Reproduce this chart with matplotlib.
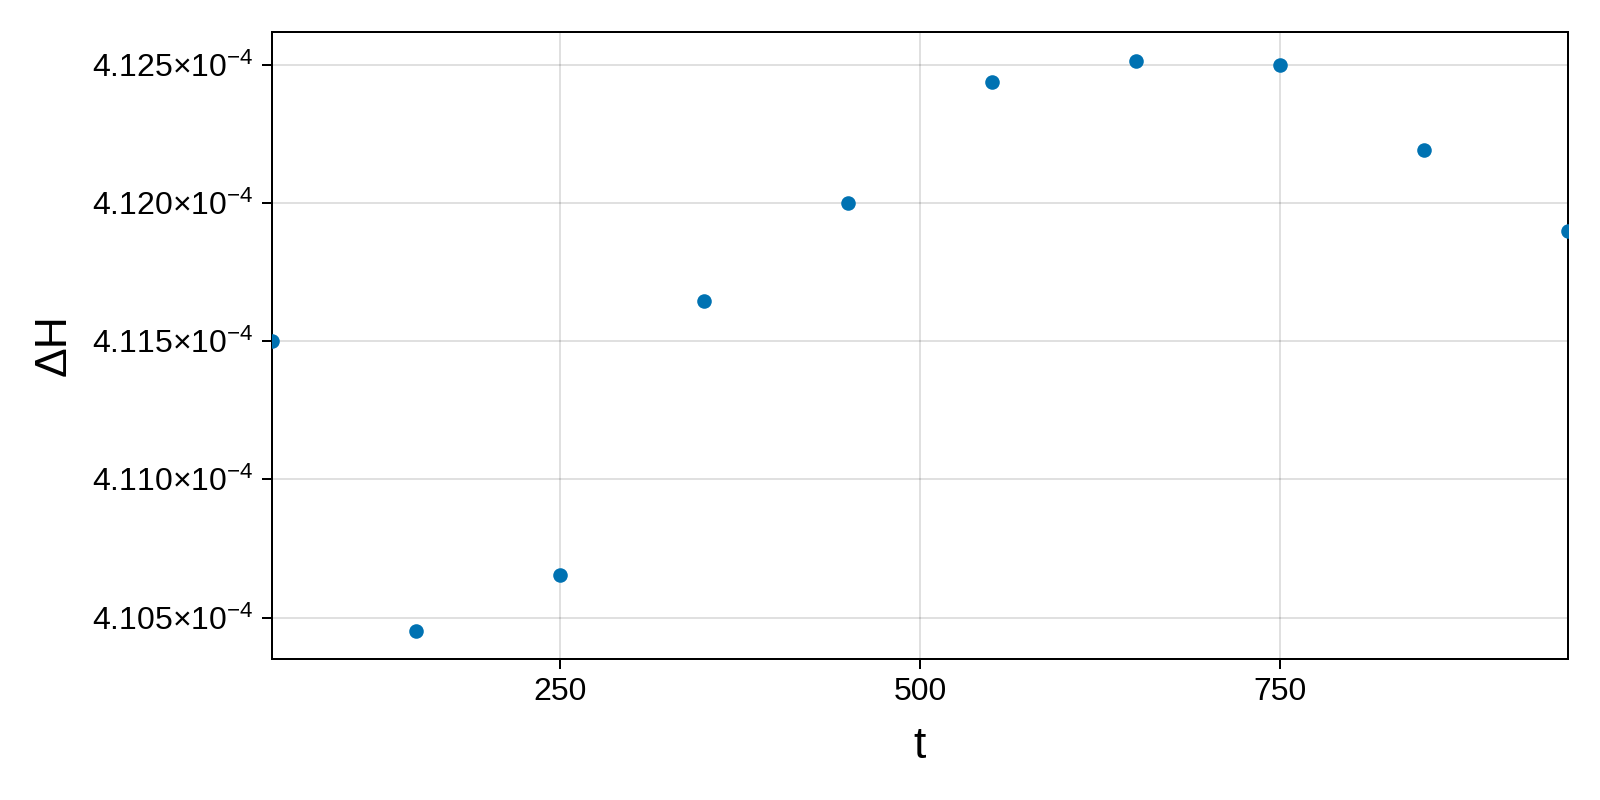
import matplotlib
matplotlib.use("Agg")
import matplotlib.pyplot as plt
from matplotlib.ticker import FixedLocator, FixedFormatter

plt.rcParams['font.family'] = ['Liberation Sans', 'DejaVu Sans']
plt.rcParams['mathtext.fontset'] = 'custom'
plt.rcParams['mathtext.rm'] = 'Liberation Sans'
plt.rcParams['mathtext.it'] = 'Liberation Sans:italic'
plt.rcParams['mathtext.bf'] = 'Liberation Sans:bold'

t = [50, 150, 250, 350, 450, 550, 650, 750, 850, 950]
dH = [4.1150e-4, 4.10453e-4, 4.10652e-4, 4.11644e-4, 4.12000e-4,
      4.12437e-4, 4.12515e-4, 4.12500e-4, 4.12191e-4, 4.11898e-4]

xticks = [250, 500, 750]
yticks = [4.105e-4, 4.110e-4, 4.115e-4, 4.120e-4, 4.125e-4]
ytick_labels = [r"$4.105{\times}10^{-4}$", r"$4.110{\times}10^{-4}$",
                r"$4.115{\times}10^{-4}$", r"$4.120{\times}10^{-4}$",
                r"$4.125{\times}10^{-4}$"]

fig = plt.figure(figsize=(16, 8), dpi=100)
ax = fig.add_axes([0.17, 0.17625, 0.81, 0.78375])

ax.scatter(t, dH, s=110, color='#0072B2', linewidths=0, zorder=3)

ax.set_xlim(min(t), max(t))
ax.margins(y=0.05)

ax.xaxis.set_major_locator(FixedLocator(xticks))
ax.yaxis.set_major_locator(FixedLocator(yticks))
ax.yaxis.set_major_formatter(FixedFormatter(ytick_labels))

ax.grid(True, color='black', alpha=0.12, linewidth=1.44)
ax.set_axisbelow(True)

for sp in ax.spines.values():
    sp.set_linewidth(1.44)

ax.tick_params(axis='both', direction='out', length=7, width=1.44,
               labelsize=23, pad=6, colors='black')

ax.set_xlabel('t', fontsize=32)
ax.set_ylabel('ΔH', fontsize=32)
ax.xaxis.set_label_coords(0.5, -0.139)
ax.xaxis.label.set_va('center')
ax.yaxis.set_label_coords(-0.1679, 0.5)
ax.yaxis.label.set_va('center')

fig.savefig('out.png', dpi=100)
